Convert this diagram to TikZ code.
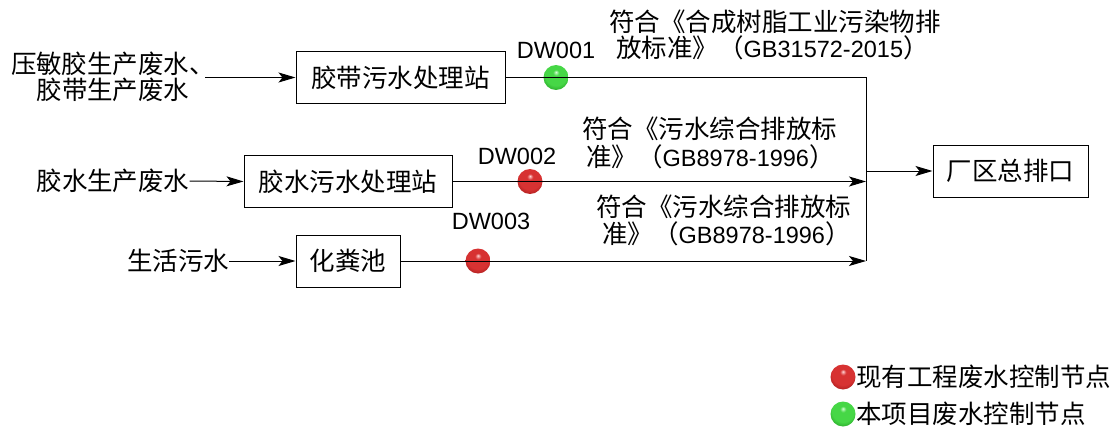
\documentclass[tikz,border=0pt]{standalone}
\usepackage{fontspec}
\setmainfont{Liberation Sans}
\newfontfamily\cj{Noto Sans CJK SC}
\usetikzlibrary{arrows.meta,shadings}
\definecolor{gh}{RGB}{215,255,215}
\definecolor{gm}{RGB}{70,215,70}
\definecolor{gd}{RGB}{25,145,25}
\definecolor{rh}{RGB}{255,215,215}
\definecolor{rm}{RGB}{215,50,50}
\definecolor{rd}{RGB}{150,20,20}
\pgfdeclareradialshading{gball}{\pgfpoint{0bp}{11bp}}{color(0bp)=(gh); color(6bp)=(gm); color(22bp)=(gm); color(36bp)=(gd); color(50bp)=(gd)}
\pgfdeclareradialshading{rball}{\pgfpoint{0bp}{11bp}}{color(0bp)=(rh); color(6bp)=(rm); color(22bp)=(rm); color(36bp)=(rd); color(50bp)=(rd)}
\begin{document}
\begin{tikzpicture}[x=1pt,y=-1pt,
  box/.style={draw,line width=1pt,minimum height=52pt,inner sep=0pt,font=\cj\fontsize{25.5}{26}\selectfont},
  txt/.style={inner sep=0pt,font=\cj\fontsize{25.5}{26}\selectfont},
  lbl/.style={inner sep=0pt,font=\fontsize{23.5}{26}\selectfont},
  flow/.style={line width=1pt,-{Stealth[length=17pt,width=10pt,inset=4pt]}},
  pipe/.style={line width=1pt},
  redball/.style={circle,minimum size=25pt,inner sep=0pt,shading=rball},
  greenball/.style={circle,minimum size=25pt,inner sep=0pt,shading=gball},
]
\useasboundingbox (0,0) rectangle (1117,428);
% balls (drawn first, lines pass over them)
\node[greenball] (b1) at (556,77.5) {};
\node[redball] (b2) at (530,181.5) {};
\node[redball] (b3) at (478,261) {};
% inputs
\node[txt,align=center] (in1) at (113,77) {压敏胶生产废水、\\胶带生产废水};
\node[txt] (in2) at (113,181) {胶水生产废水};
\node[txt] (in3) at (178,261) {生活污水};
% boxes
\node[box,minimum width=209pt] (s1) at (400.5,77.5) {胶带污水处理站};
\node[box,minimum width=208pt] (s2) at (348,181.5) {胶水污水处理站};
\node[box,minimum width=104pt] (s3) at (348,261) {化粪池};
\node[box,minimum width=155pt] (out) at (1010.5,171) {厂区总排口};
% junction coordinates
\coordinate (j1) at (866,77.5);
\coordinate (j2) at (866,181.5);
\coordinate (j3) at (866,261);
\coordinate (jm) at (866,171);
\coordinate (a1) at (205,77.5);
% input arrows
\draw[flow] (a1) -- (s1.west);
\draw[flow] (in2.east) -- (s2.west);
\draw[flow] (in3.east) -- (s3.west);
% outflow lines
\draw[pipe] (s1.east) -- (j1) -- (j3);
\draw[flow] (s2.east) -- (j2);
\draw[flow] (s3.east) -- (j3);
\draw[flow] (jm) -- (out.west);
% labels
\node[lbl] (l1) at (556,50) {DW001};
\node[lbl] (l2) at (517,156) {DW002};
\node[lbl] (l3) at (491,221) {DW003};
% standards
\node[txt,anchor=west] (t1a) at (609,22) {符合《合成树脂工业污染物排};
\node[txt,anchor=west] (t1b) at (616,48) {放标准》（{\rmfamily\fontsize{23.5}{26}\selectfont GB31572-2015}）};
\node[txt,anchor=west] (t2a) at (582,129) {符合《污水综合排放标};
\node[txt,anchor=west] (t2b) at (586,157) {准》（{\rmfamily\fontsize{23.5}{26}\selectfont GB8978-1996}）};
\node[txt,anchor=west] (t3a) at (596,207) {符合《污水综合排放标};
\node[txt,anchor=west] (t3b) at (602,234) {准》（{\rmfamily\fontsize{23.5}{26}\selectfont GB8978-1996}）};
% legend
\node[redball] (lr) at (843,377) {};
\node[txt,anchor=west] (ltr) at (856,377) {现有工程废水控制节点};
\node[greenball] (lg) at (843,414) {};
\node[txt,anchor=west] (ltg) at (856,414) {本项目废水控制节点};
\end{tikzpicture}
\end{document}
